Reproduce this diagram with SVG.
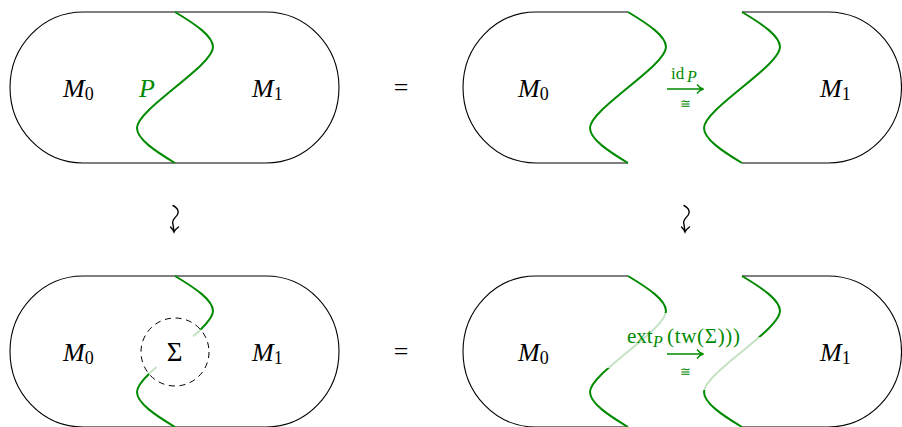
<svg xmlns="http://www.w3.org/2000/svg" width="902" height="427" viewBox="0 0 902 427">
<style>
.out{fill:none;stroke:#000;stroke-width:1.1}
.g{fill:none;stroke:#008a00;stroke-width:2}
.lg{fill:none;stroke:#c4e2c4;stroke-width:2}
.t{font-family:"Liberation Serif","Times New Roman",serif;font-size:26px;fill:#000}
.i{font-style:italic}
.sub{font-style:normal;font-size:18px}
.gt{fill:#008a00}
.arr{fill:none;stroke:#008a00;stroke-width:1.3}
.sq{fill:none;stroke:#000;stroke-width:1.4;stroke-linecap:round}
</style>
<defs>
<path id="wave" d="M175,12 C195,24 213,36 213,47 C213,66 137,109 137,128 C137,139 155,151 175,163"/>
<clipPath id="outC"><path clip-rule="evenodd" d="M0,0H902V427H0Z M209,352 A34,34 0 1 0 141,352 A34,34 0 1 0 209,352Z"/></clipPath>
<clipPath id="ringC"><path clip-rule="evenodd" d="M209,352 A34,34 0 1 0 141,352 A34,34 0 1 0 209,352Z M199,352 A24,24 0 1 0 151,352 A24,24 0 1 0 199,352Z"/></clipPath>
<clipPath id="bandL"><rect x="0" y="313" width="902" height="55"/></clipPath>
<clipPath id="outL"><path clip-rule="evenodd" d="M0,0H902V427H0Z M0,313H902V368H0Z"/></clipPath>
<clipPath id="bandR"><rect x="0" y="337" width="902" height="53"/></clipPath>
<clipPath id="outR"><path clip-rule="evenodd" d="M0,0H902V427H0Z M0,337H902V390H0Z"/></clipPath>
</defs>

<g id="top-left">
<path class="out" d="M83,12 L266,12 A73,75.5 0 0 1 266,163 L83,163 A73,75.5 0 0 1 83,12 Z"/>
<use href="#wave" class="g"/>
<text class="t i" x="63" y="97">M<tspan class="sub" dy="3">0</tspan></text>
<text class="t i gt" x="139" y="97">P</text>
<text class="t i" x="252" y="97">M<tspan class="sub" dy="3">1</tspan></text>
</g>

<g id="eq-top"><text class="t" x="401" y="96" text-anchor="middle">=</text></g>

<g id="top-right-left">
<path class="out" d="M628,12 L536,12 A73,75.5 0 0 0 536,163 L628,163"/>
<use href="#wave" class="g" transform="translate(453,0)"/>
<text class="t i" x="518" y="97">M<tspan class="sub" dy="3">0</tspan></text>
</g>
<g id="top-right-right">
<path class="out" d="M742,12 L828,12 A73.5,75.5 0 0 1 828,163 L742,163"/>
<use href="#wave" class="g" transform="translate(567,0)"/>
<text class="t i" x="820" y="97">M<tspan class="sub" dy="3">1</tspan></text>
</g>

<g id="bottom-left">
<path class="out" d="M83,276 L266,276 A73,75.5 0 0 1 266,427 L83,427 A73,75.5 0 0 1 83,276 Z"/>
<g clip-path="url(#outC)"><use href="#wave" class="g" transform="translate(0,264)"/></g>
<g clip-path="url(#ringC)"><use href="#wave" class="lg" transform="translate(0,264)"/></g>
<circle cx="175" cy="352" r="34" fill="none" stroke="#000" stroke-width="1" stroke-dasharray="6,4.7"/>
<text class="t" x="174.5" y="361" text-anchor="middle" style="font-size:27px">Σ</text>
<text class="t i" x="63" y="361">M<tspan class="sub" dy="3">0</tspan></text>
<text class="t i" x="252" y="361">M<tspan class="sub" dy="3">1</tspan></text>
</g>

<g id="eq-bottom"><text class="t" x="401" y="360" text-anchor="middle">=</text></g>

<g id="bottom-right-left">
<path class="out" d="M628,276 L536,276 A73,75.5 0 0 0 536,427 L628,427"/>
<g clip-path="url(#outL)"><use href="#wave" class="g" transform="translate(453,264)"/></g>
<g clip-path="url(#bandL)"><use href="#wave" class="lg" transform="translate(453,264)"/></g>
<text class="t i" x="518" y="361">M<tspan class="sub" dy="3">0</tspan></text>
</g>
<g id="bottom-right-right">
<path class="out" d="M742,276 L828,276 A73.5,75.5 0 0 1 828,427 L742,427"/>
<g clip-path="url(#outR)"><use href="#wave" class="g" transform="translate(567,264)"/></g>
<g clip-path="url(#bandR)"><use href="#wave" class="lg" transform="translate(567,264)"/></g>
<text class="t i" x="820" y="361">M<tspan class="sub" dy="3">1</tspan></text>
</g>

<g id="connectors">
<g id="iso-top">
<text class="t gt" x="671" y="79" style="font-size:17px">id</text>
<text class="t i gt" x="687" y="82" style="font-size:16px">P</text>
<path class="arr" d="M667,89 L703,89 M697,84.5 Q699.5,88 703.5,89 Q699.5,90 697,93.5"/>
<text x="685" y="108" text-anchor="middle" style="font-family:'DejaVu Serif',serif;font-size:13px;fill:#008a00">≅</text>
</g>
<g id="iso-bottom">
<text class="t gt" x="627" y="343" style="font-size:21px">ext</text>
<text class="t i gt" x="653" y="347" style="font-size:16px">P</text>
<text class="t gt" x="667" y="343" style="font-size:21px" textLength="73" lengthAdjust="spacing">(tw(Σ)))</text>
<path class="arr" d="M667,354 L703,354 M697,349.5 Q699.5,353 703.5,354 Q699.5,355 697,358.5"/>
<text x="685" y="376" text-anchor="middle" style="font-family:'DejaVu Serif',serif;font-size:13px;fill:#008a00">≅</text>
</g>
<g id="squig-left">
<path class="sq" d="M173,205.5 C177,207.5 179.5,211 177.5,214.5 C175.5,218 171,220 173,224.5 L174,231.5 M170.5,227 Q173,229.5 174,232 Q175,229.5 178.5,227"/>
</g>
<g id="squig-right">
<path class="sq" d="M684,205.5 C688,207.5 690.5,211 688.5,214.5 C686.5,218 682,220 684,224.5 L685,231.5 M681.5,227 Q684,229.5 685,232 Q686,229.5 689.5,227"/>
</g>
</g>
</svg>
